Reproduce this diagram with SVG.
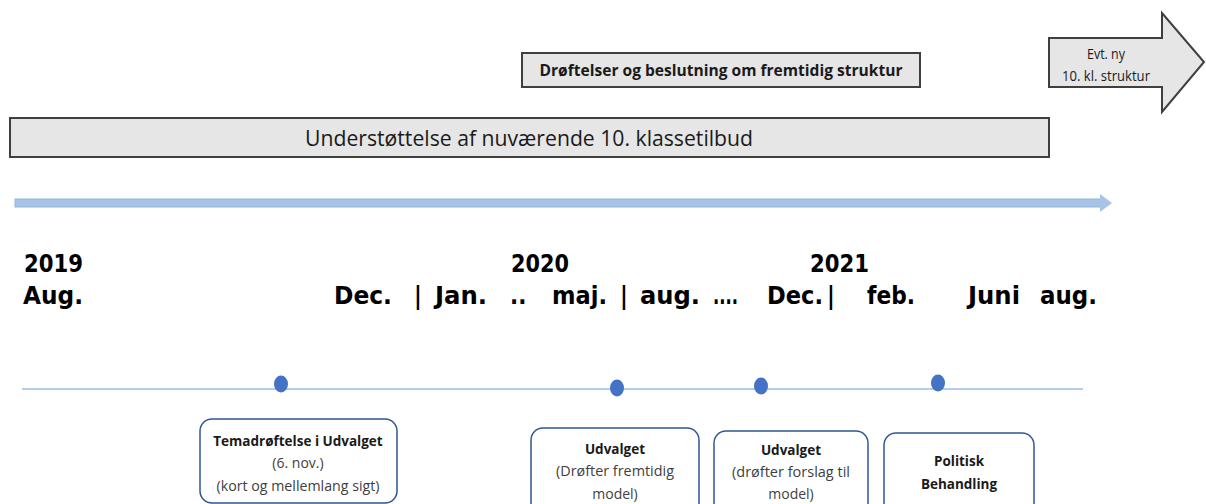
<svg xmlns="http://www.w3.org/2000/svg" width="1206" height="504" viewBox="0 0 1206 504">
<style>
.bar{fill:#e6e6e6;stroke:#3f3f3f;stroke-width:2}
.card{fill:#ffffff;stroke:#2f5597;stroke-width:1.5}
.dot{fill:#4472c4}
.t{font-family:"Open Sans","Liberation Sans",sans-serif;fill:#1a1a1a}
.tb{font-family:"Open Sans","Liberation Sans",sans-serif;font-weight:bold;fill:#1a1a1a}
.sub{font-family:"Open Sans","Liberation Sans",sans-serif;fill:#404040}
.d{font-family:"DejaVu Sans",Verdana,sans-serif;font-weight:bold;font-size:21.5px;fill:#000}
</style>
<rect width="1206" height="504" fill="#ffffff"/>

<g id="drofteler">
<rect class="bar" x="522" y="53" width="398" height="34"/>
<text class="tb" x="721" y="76" font-size="15.5" text-anchor="middle" textLength="363" lengthAdjust="spacingAndGlyphs">Drøftelser og beslutning om fremtidig struktur</text>
</g>

<g id="understottelse">
<rect class="bar" x="10" y="118" width="1039" height="39"/>
<text class="t" x="529" y="146" font-size="21" text-anchor="middle" textLength="448" lengthAdjust="spacingAndGlyphs">Understøttelse af nuværende 10. klassetilbud</text>
</g>

<g id="evt-ny">
<polygon class="bar" points="1049,38 1162,38 1162,13 1204,62 1162,112 1162,87 1049,87"/>
<text class="t" x="1106" y="59" font-size="15" text-anchor="middle" textLength="38" lengthAdjust="spacingAndGlyphs">Evt. ny</text>
<text class="t" x="1106" y="81" font-size="15" text-anchor="middle" textLength="88" lengthAdjust="spacingAndGlyphs">10. kl. struktur</text>
</g>

<g id="connectors">
<rect x="15" y="199" width="1086" height="8" fill="#a7c3e6" stroke="#93b5df" stroke-width="1"/>
<polygon points="1100,194 1112,203 1100,212" fill="#a7c3e6"/>
<line x1="22" y1="389" x2="1083" y2="389" stroke="#9dbde5" stroke-width="1.5"/>
</g>

<g id="dates" transform="scale(1,1.15)">
<text class="d" x="24" y="236.5" textLength="59" lengthAdjust="spacingAndGlyphs">2019</text>
<text class="d" x="23" y="264.5" textLength="60" lengthAdjust="spacingAndGlyphs">Aug.</text>
<text class="d" x="511" y="236.5" textLength="58" lengthAdjust="spacingAndGlyphs">2020</text>
<text class="d" x="810" y="236.5" textLength="59" lengthAdjust="spacingAndGlyphs">2021</text>
<text class="d" x="334" y="264.5" textLength="58" lengthAdjust="spacingAndGlyphs">Dec.</text>
<text class="d" x="414" y="264.5">|</text>
<text class="d" x="435" y="264.5" textLength="52" lengthAdjust="spacingAndGlyphs">Jan.</text>
<text class="d" x="510" y="264.5">..</text>
<text class="d" x="552" y="264.5" textLength="55" lengthAdjust="spacingAndGlyphs">maj.</text>
<text class="d" x="620" y="264.5">|</text>
<text class="d" x="640" y="264.5" textLength="60" lengthAdjust="spacingAndGlyphs">aug.</text>
<text class="d" x="713" y="264.5" textLength="25" lengthAdjust="spacingAndGlyphs">....</text>
<text class="d" x="767" y="264.5" textLength="56" lengthAdjust="spacingAndGlyphs">Dec.</text>
<text class="d" x="827" y="264.5">|</text>
<text class="d" x="867" y="264.5" textLength="48" lengthAdjust="spacingAndGlyphs">feb.</text>
<text class="d" x="968" y="264.5" textLength="52" lengthAdjust="spacingAndGlyphs">Juni</text>
<text class="d" x="1040" y="264.5" textLength="57" lengthAdjust="spacingAndGlyphs">aug.</text>
</g>

<g id="dot1"><ellipse class="dot" cx="281" cy="384" rx="7" ry="8.5"/></g>
<g id="dot2"><ellipse class="dot" cx="617" cy="388" rx="7" ry="8.5"/></g>
<g id="dot3"><ellipse class="dot" cx="761" cy="386" rx="7" ry="8.5"/></g>
<g id="dot4"><ellipse class="dot" cx="938" cy="383" rx="7" ry="8.5"/></g>

<g id="card1">
<rect class="card" x="200" y="419" width="197" height="84" rx="12"/>
<text class="tb" x="298" y="446" font-size="13.5" text-anchor="middle">Temadrøftelse i Udvalget</text>
<text class="sub" x="298" y="468" font-size="14" text-anchor="middle">(6. nov.)</text>
<text class="sub" x="298" y="491" font-size="14" text-anchor="middle" textLength="163" lengthAdjust="spacingAndGlyphs">(kort og mellemlang sigt)</text>
</g>

<g id="card2">
<rect class="card" x="531" y="428" width="168" height="90" rx="12"/>
<text class="tb" x="615" y="454" font-size="13.5" text-anchor="middle">Udvalget</text>
<text class="sub" x="615" y="476" font-size="14" text-anchor="middle" textLength="118" lengthAdjust="spacingAndGlyphs">(Drøfter fremtidig</text>
<text class="sub" x="615" y="499" font-size="14" text-anchor="middle">model)</text>
</g>

<g id="card3">
<rect class="card" x="714" y="431" width="154" height="90" rx="12"/>
<text class="tb" x="791" y="455" font-size="13.5" text-anchor="middle">Udvalget</text>
<text class="sub" x="791" y="477" font-size="14" text-anchor="middle" textLength="118" lengthAdjust="spacingAndGlyphs">(drøfter forslag til</text>
<text class="sub" x="791" y="499" font-size="14" text-anchor="middle">model)</text>
</g>

<g id="card4">
<rect class="card" x="884" y="433" width="150" height="90" rx="12"/>
<text class="tb" x="959" y="466" font-size="13.5" text-anchor="middle">Politisk</text>
<text class="tb" x="959" y="489" font-size="13.5" text-anchor="middle">Behandling</text>
</g>
</svg>
